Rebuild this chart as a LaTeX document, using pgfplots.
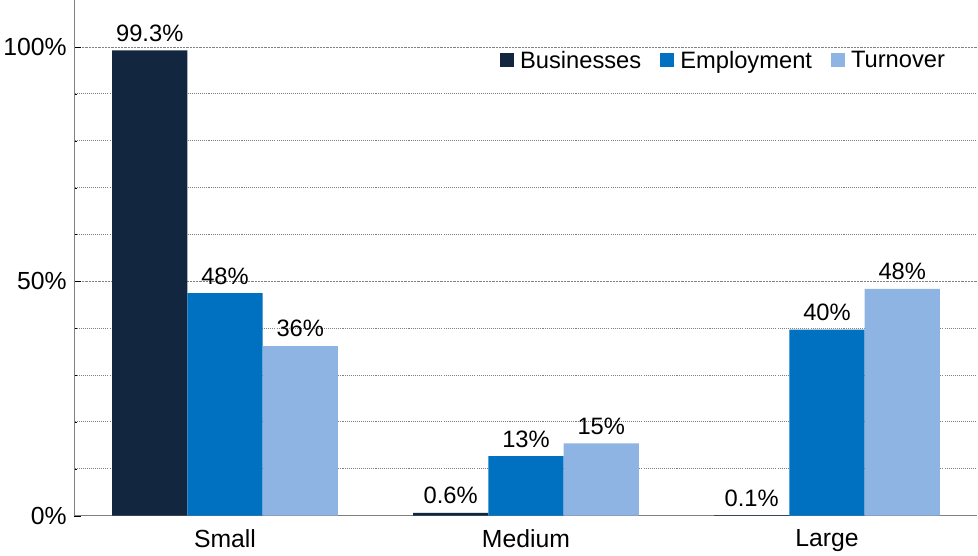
\documentclass[border=0pt]{standalone}
\usepackage{pgfplots}
\pgfplotsset{compat=1.18}
\usepackage{fontspec}
\setmainfont{Liberation Sans}
\definecolor{c1}{HTML}{12263F}
\definecolor{c2}{HTML}{0070C0}
\definecolor{c3}{HTML}{8DB4E2}
\begin{document}
\begin{tikzpicture}[font=\fontsize{24}{28}\selectfont]
\begin{axis}[
  scale only axis, width=876pt, height=500pt,
  xmin=-0.5, xmax=2.5, ymin=0, ymax=110,
  ybar=0pt, bar width=0.25,
  xtick={0,1,2}, xticklabels={Small,Medium,Large},
  extra x ticks={0.5,1.5}, extra x tick labels={},
  extra x tick style={major tick length=8pt, tick style={black}},
  major x tick style={draw=none},
  ytick={0,50,100}, yticklabels={0\%,50\%,100\%},
  minor ytick={10,20,30,40,60,70,80,90},
  ymajorgrids, yminorgrids,
  grid style={densely dotted, gray, line width=1pt},
  minor grid style={densely dotted, gray, line width=1pt},
  ytick style={black}, major tick length=6pt,
  axis x line*=bottom, axis y line*=left,
  axis line style={gray},
  tick label style={font=\fontsize{24}{28}\selectfont},
  yticklabel style={xshift=-4pt},
  xticklabel style={yshift=-4pt},
  nodes near coords, point meta=explicit symbolic,
  every node near coord/.append style={font=\fontsize{23}{27}\selectfont, black, yshift=5pt},
  legend style={draw=none, fill=none, at={(0.97,0.91)}, anchor=north east, legend columns=3, /tikz/every even column/.append style={column sep=16pt}, font=\fontsize{23}{27}\selectfont},
  legend image code/.code={\fill[#1] (0pt,-7pt) rectangle (14pt,7pt);},
  legend cell align=left,
]
\addplot[fill=c1, draw=none] coordinates {(0,99.3)[99.3\%] (1,0.6)[0.6\%] (2,0.1)[0.1\%]};
\addplot[fill=c2, draw=none] coordinates {(0,47.5)[48\%] (1,12.7)[13\%] (2,39.7)[40\%]};
\addplot[fill=c3, draw=none] coordinates {(0,36.2)[36\%] (1,15.4)[15\%] (2,48.4)[48\%]};
\legend{\,Businesses,\,Employment,\,Turnover}
\end{axis}
\end{tikzpicture}
\end{document}
